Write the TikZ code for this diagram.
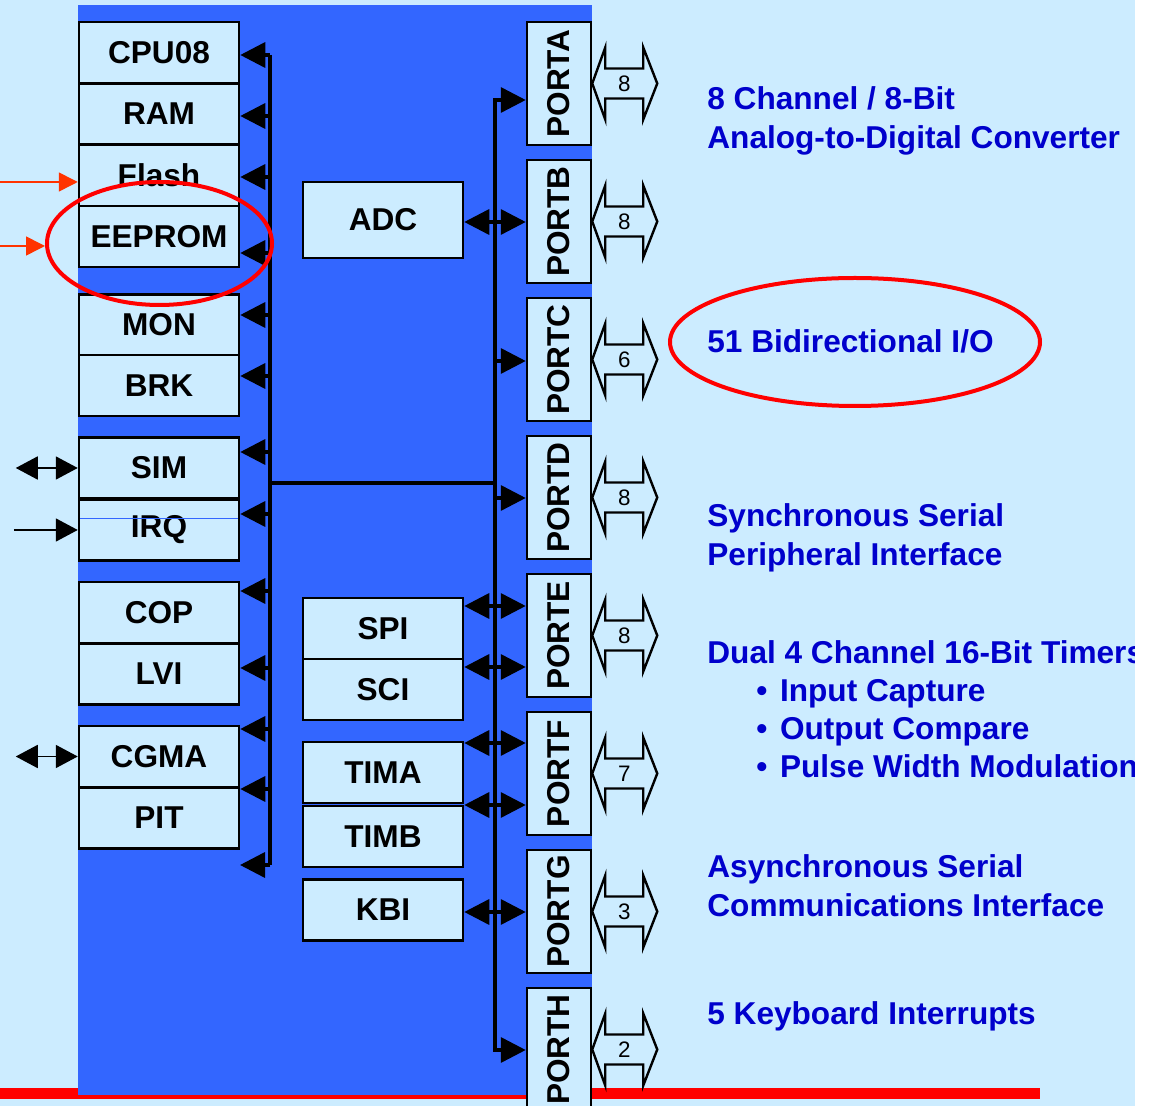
\documentclass[tikz,border=0pt]{standalone}
\usepackage{fontspec}
\setmainfont{Liberation Sans}
\usepackage{graphicx}
\definecolor{lightsky}{RGB}{204,236,255}
\definecolor{busblue}{RGB}{51,102,255}
\definecolor{textblue}{RGB}{0,0,204}
\definecolor{signalred}{RGB}{255,0,0}
\definecolor{arrowred}{RGB}{255,51,0}
\usetikzlibrary{arrows.meta, shapes.geometric}

\begin{document}
\begin{tikzpicture}[x=0.5pt, y=-0.5pt,
        blk/.style={draw, line width=1.25pt, fill=lightsky, minimum width=80pt, minimum height=30.6pt, inner sep=0pt, font=\fontsize{15.8}{18}\selectfont\bfseries},
        port/.style={blk, minimum width=32pt, minimum height=61.5pt},
        bus/.style={line width=1.75pt},
        hollow/.style={draw, line width=1.2pt, fill=lightsky},
        num/.style={inner sep=0pt, font=\fontsize{11.2}{13}\selectfont},
        ring/.style={draw=signalred, line width=2pt, ellipse, inner sep=0pt},
        info/.style={anchor=base west, inner sep=0pt, text=textblue, font=\fontsize{15.8}{19}\selectfont\bfseries},
        extarr/.style={line width=0.9pt, arrows={-Triangle[length=11pt,width=11.5pt]}},
        extbi/.style={line width=0.9pt, arrows={Triangle[length=11pt,width=11.5pt]-Triangle[length=11pt,width=11.5pt]}},
        redarr/.style={draw=arrowred, line width=0.8pt, arrows={-Triangle[length=9.5pt,width=9.5pt]}},
        >={Triangle[length=12.5pt,width=12.5pt]}]   % Pfeilspitzen der Busse
        % Hintergrund
        \fill[lightsky] (0,0) rectangle (1135,1106);
        \fill[signalred] (0,1088) rectangle (1040,1099);
        \fill[busblue] (78,5) rectangle (592,1095);
        \useasboundingbox (0,0) rectangle (1158,1106);
        % Module links
        \foreach \n/\t/\y in {cpu/CPU08/52.5, ram/RAM/114, flash/Flash/175.5, eeprom/EEPROM/236.5, mon/MON/325, brk/BRK/385.5, sim/SIM/468, irq/IRQ/530, cop/COP/612.5, lvi/LVI/674, cgma/CGMA/756.5, pit/PIT/818}
            \node[blk] (\n) at (159,\y) {\t};
        \draw[busblue, line width=0.4pt] (80,518) -- (238,518);
        % Module Mitte
        \node[blk, minimum height=38pt] (adc) at (383,220) {ADC};
        \foreach \n/\t/\y in {spi/SPI/628.5, sci/SCI/689.5, tima/TIMA/772.5, timb/TIMB/836.5, kbi/KBI/910}
            \node[blk] (\n) at (383,\y) {\t};
        % Ports
        \foreach \n/\t/\y in {porta/PORTA/83.5, portb/PORTB/221.5, portc/PORTC/359.5, portd/PORTD/497.5, porte/PORTE/635.5, portf/PORTF/773.5, portg/PORTG/911.5, porth/PORTH/1049.5}
            \node[port] (\n) at (559,\y) {\rotatebox{90}{\t}};
        % linker Bus
        \foreach \n/\y in {cpu/55, ram/116, flash/177, eeprom/253, mon/315, brk/376, sim/452, irq/514, cop/591, lvi/668, cgma/729, pit/789} {
            \coordinate (b\n) at (270,\y);
            \draw[bus,->] (b\n) -- (b\n -| \n.east);
        }
        \coordinate (bend) at (270,865);
        \coordinate (bfree) at (240,865);
        \draw[bus] (bcpu) -- (bend);
        \draw[bus,->] (bend) -- (bfree);
        % rechter Bus
        \coordinate (lmid) at (270,483);
        \coordinate (rtop) at (495,100);
        \coordinate (rbot) at (495,1050);
        \draw[bus] (lmid) -- (lmid -| rtop);
        \draw[bus,<->] (rtop -| porta.west) -- (rtop) -- (rbot) -- (rbot -| porth.west);
        \foreach \p/\y in {portc/361, portd/498} {
            \coordinate (r\p) at (495,\y);
            \draw[bus,->] (r\p) -- (r\p -| \p.west);
        }
        \foreach \m/\p/\y in {adc/portb/222, spi/porte/606, sci/porte/667, tima/portf/743, timb/portf/805, kbi/portg/912} {
            \coordinate (r\m) at (495,\y);
            \draw[bus,<->] (r\m -| \m.east) -- (r\m -| \p.west);
        }
        % Anschluesse nach aussen
        \foreach \p/\k in {porta/8, portb/8, portc/6, portd/8, porte/8, portf/7, portg/3, porth/2} {
            \draw[hollow] (\p.east) -- ++(13,-36) -- ++(0,21) -- ++(38,0) -- ++(0,-21) -- ++(14,36)
                -- ++(-14,36) -- ++(0,-21) -- ++(-38,0) -- ++(0,21) -- cycle;
            \node[num] (n\p) at ([xshift=16pt]\p.east) {\k};
        }
        \coordinate (simext) at ([xshift=-31pt]sim.west);
        \coordinate (irqin) at ([xshift=-32pt]irq.west);
        \coordinate (cgmaext) at ([xshift=-31pt]cgma.west);
        \draw[extbi] (simext) -- (sim.west);
        \draw[extarr] (irqin) -- (irq.west);
        \draw[extbi] (cgmaext) -- (cgma.west);
        % Markierungen
        \node[ring, minimum width=112.5pt, minimum height=61.5pt] (eering) at (159.5,243.5) {};
        \node[ring, minimum width=185pt, minimum height=64pt] (ioring) at (855,342) {};
        \coordinate (fin) at (0,182);
        \coordinate (ein) at (0,246);
        \draw[redarr] (fin) -- (fin -| flash.west);
        \draw[redarr] (ein) -- (ein -| eering.west);
        % Beschriftung
        \node[info] (adcA) at (707,110) {8 Channel / 8-Bit};
        \node[info] (adcB) at (707,149) {Analog-to-Digital Converter};
        \node[info] (io) at (707,353) {51 Bidirectional I/O};
        \node[info] (spiA) at (707,527) {Synchronous Serial};
        \node[info] (spiB) at (707,566) {Peripheral Interface};
        \node[info] (timA) at (707,664) {Dual 4 Channel 16-Bit Timers};
        \node[info] (timB) at (756,702) {•\hspace{0.4em}Input Capture};
        \node[info] (timC) at (756,740) {•\hspace{0.4em}Output Compare};
        \node[info] (timD) at (756,778) {•\hspace{0.4em}Pulse Width Modulation};
        \node[info] (sciA) at (707,878) {Asynchronous Serial};
        \node[info] (sciB) at (707,917) {Communications Interface};
        \node[info] (kbiA) at (707,1025) {5 Keyboard Interrupts};
        \fill[white] (1135,0) rectangle (1158,1106);
    \end{tikzpicture}
\end{document}
